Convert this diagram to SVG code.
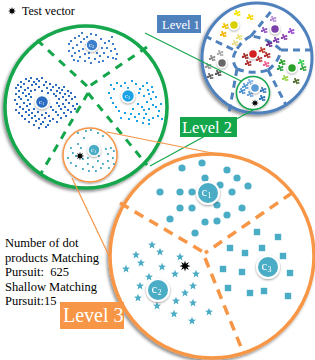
<svg xmlns="http://www.w3.org/2000/svg" xmlns:xlink="http://www.w3.org/1999/xlink" width="315" height="360" viewBox="0 0 315 360">
<style>
.t{font-family:"Liberation Serif","Times New Roman",serif;fill:#000;white-space:pre}
.lab{font-family:"Liberation Serif","Times New Roman",serif;fill:#fff}
.bl{font-family:"Liberation Serif","Times New Roman",serif;fill:#fff;text-anchor:middle}
.ring{fill:#fff}
.dashB{fill:none;stroke:#4f81bd;stroke-width:3;stroke-dasharray:7 5}
.dashG{fill:none;stroke:#13a64b;stroke-width:3;stroke-dasharray:8 7}
.dashO{fill:none;stroke:#f79646;stroke-width:3.5;stroke-dasharray:10 7}
.teal{fill:#4bacc6}
</style>
<defs>
<filter id="sh" x="-20%" y="-20%" width="140%" height="140%"><feDropShadow dx="-1.5" dy="2" stdDeviation="1.5" flood-color="#000" flood-opacity="0.45"/></filter>
<filter id="sh2" x="-50%" y="-50%" width="200%" height="200%"><feDropShadow dx="0" dy="1" stdDeviation="1" flood-color="#000" flood-opacity="0.4"/></filter>
<polygon id="st8" points="5,0 2.12,0.88 3.54,3.54 0.88,2.12 0,5 -0.88,2.12 -3.54,3.54 -2.12,0.88 -5,0 -2.12,-0.88 -3.54,-3.54 -0.88,-2.12 0,-5 0.88,-2.12 3.54,-3.54 2.12,-0.88" fill="#000"/>
<polygon id="st5" points="0,-4.2 1.06,-1.46 3.99,-1.3 1.71,0.56 2.47,3.4 0,1.8 -2.47,3.4 -1.71,0.56 -3.99,-1.3 -1.06,-1.46" fill="#4bacc6"/>
<circle id="dot" r="3.6" fill="#4bacc6"/>
<rect id="sq" x="-3.2" y="-3.2" width="6.4" height="6.4" fill="#4bacc6"/>
<g id="blob"><circle r="1.4"/><circle cx="2.2" cy="-0.9" r="1.2"/><circle cx="-2" cy="0.9" r="1.2"/><circle cx="0.9" cy="2.1" r="1.1"/><circle cx="-0.9" cy="-2" r="1.1"/><circle cx="2.6" cy="1.9" r="0.9"/></g>
</defs>
<rect width="315" height="360" fill="#fff"/>

<!-- Test vector legend -->
<g id="legend">
<use href="#st8" transform="translate(12,11) scale(0.8)"/>
<text class="t" x="22" y="15" font-size="12">Test vector</text>
</g>

<!-- Level 2 -->
<g id="level2">
<circle cx="86" cy="107" r="81" class="ring" stroke="#13a64b" stroke-width="3.5" filter="url(#sh)"/>
<path class="dashG" d="M37,40 L88,87 M147,47 L88,87 M88,93 L40,175 M88,93 L147,165"/>
<path fill="none" stroke="#3d7fcc" stroke-width="2" d="M70 41h2M74 38h2M78 36h2M80 42h2M76 45h2M72 48h2M68 44h2M83 39h2M85 45h2M82 49h2M78 51h2M74 53h2M71 56h2M79 57h2M84 54h2M88 58h2M86 37h2M81 33h2M90 34h2M95 35h2M100 39h2M104 43h2M108 41h2M112 44h2M106 48h2M110 51h2M114 49h2M103 53h2M99 56h2M107 57h2M112 58h2M116 54h2M94 59h2M90 63h2M98 62h2M102 61h2M88 53h2M96 53h2M101 48h2M73 60h2M77 61h2M84 61h2M68 51h2M111 37h2M115 59h2"/>
<path fill="none" stroke="#2b6cc0" stroke-width="2" d="M25 79h2M30 78h2M36 79h2M41 78h2M20 82h2M28 81h2M33 82h2M38 81h2M45 82h2M17 85h2M23 84h2M31 85h2M35 84h2M43 85h2M49 84h2M55 85h2M15 88h2M20 87h2M27 88h2M38 87h2M46 88h2M52 87h2M58 88h2M63 87h2M18 91h2M24 90h2M30 91h2M34 90h2M41 91h2M50 90h2M56 91h2M61 90h2M67 91h2M15 94h2M22 93h2M28 94h2M47 93h2M53 94h2M59 93h2M64 94h2M70 93h2M18 97h2M25 96h2M30 97h2M55 96h2M62 97h2M68 96h2M74 97h2M14 100h2M20 99h2M27 100h2M58 99h2M65 100h2M71 99h2M16 104h2M23 103h2M29 104h2M56 103h2M62 104h2M68 103h2M76 104h2M19 107h2M26 106h2M50 107h2M58 106h2M64 107h2M72 106h2M15 110h2M22 109h2M28 110h2M33 109h2M52 110h2M60 109h2M67 110h2M74 109h2M18 113h2M25 112h2M31 113h2M37 112h2M45 113h2M55 112h2M63 113h2M70 112h2M21 116h2M28 115h2M34 116h2M41 115h2M48 116h2M57 115h2M65 116h2M24 119h2M31 118h2M38 119h2M44 118h2M52 119h2M60 118h2M28 122h2M35 121h2M42 122h2M49 121h2M56 122h2M33 125h2M40 124h2M47 125h2M38 128h2M45 127h2"/>
<path fill="none" stroke="#1ca2e6" stroke-width="2" d="M110 85h2M113 89h2M116 83h2M120 86h2M124 83h2M127 88h2M131 81h2M135 84h2M139 89h2M142 86h2M146 83h2M147 90h2M151 87h2M138 93h2M143 96h2M148 94h2M152 92h2M150 99h2M155 97h2M146 102h2M137 104h2M141 107h2M143 110h2M148 109h2M152 105h2M155 107h2M160 104h2M158 111h2M110 98h2M112 103h2M115 107h2M108 93h2M118 111h2M124 113h2M130 114h2M134 117h2M138 114h2M143 118h2M148 120h2M152 118h2M157 116h2M142 123h2M148 124h2M136 121h2M128 119h2M120 118h2M161 119h2M145 114h2M132 109h2"/>
<g id="badge-l2-c2" filter="url(#sh2)"><circle cx="92" cy="45" r="6" fill="#3d7fcc" stroke="#fff" stroke-width="1.5"/><text class="bl" x="91.5" y="47" font-size="7">c<tspan font-size="4.5" dy="1">2</tspan></text></g>
<g id="badge-l2-c1" filter="url(#sh2)"><circle cx="42" cy="102" r="6.5" fill="#2b6cc0" stroke="#fff" stroke-width="1.5"/><text class="bl" x="41.5" y="104" font-size="7">c<tspan font-size="4.5" dy="1">1</tspan></text></g>
<g id="badge-l2-c3" filter="url(#sh2)"><circle cx="128" cy="96" r="6.5" fill="#1ca2e6" stroke="#fff" stroke-width="1.5"/><text class="bl" x="127.5" y="98" font-size="7">c<tspan font-size="4.5" dy="1">3</tspan></text></g>
</g>

<!-- Level 2 zoom region -->
<g id="zoom2">
<circle cx="90" cy="155" r="27" class="ring" stroke="#f79646" stroke-width="1.5" filter="url(#sh2)"/>
<path fill="none" stroke="#4bacc6" stroke-width="1.8" d="M77 133h1.8M85 131h1.8M90 130h1.8M97 133h1.8M102 136h1.8M83 138h1.8M77 144h1.8M72 153h1.8M67 158h1.8M70 163h1.8M75 166h1.8M82 169h1.8M88 171h1.8M87 164h1.8M97 161h1.8M102 164h1.8M107 161h1.8M113 164h1.8M112 158h1.8M107 154h1.8M113 151h1.8M110 148h1.8M105 149h1.8M75 156h1.8M82 159h1.8M87 158h1.8M92 167h1.8M100 168h1.8M98 156h1.8M70 148h1.8M80 148h1.8M95 171h1.8M108 168h1.8"/>
<g id="badge-z2" filter="url(#sh2)"><circle cx="94" cy="150" r="6" fill="#4bacc6" stroke="#fff" stroke-width="1.5"/><text class="bl" x="93.5" y="152" font-size="7">c<tspan font-size="4.5" dy="1">1</tspan></text></g>
<use href="#st8" transform="translate(80,156) scale(0.85)"/>
</g>

<!-- Level 1 -->
<g id="level1">
<circle cx="257" cy="58" r="55" class="ring" stroke="#4f81bd" stroke-width="3" filter="url(#sh)"/>
<path class="dashB" d="M205,36 L236,51 M236,51 Q230,60 237,69 M237,69 L229,113 M237,69 Q253,75 268,70 M268,70 L286,105 M268,70 Q279,62 281,50 M281,50 L312,50 M281,50 Q268,38 251,36 M251,36 L273,9 M251,36 Q241,41 236,51"/>
<use href="#blob" x="237" y="13" fill="#f2e600"/>
<use href="#blob" x="250" y="17" fill="#f5d800"/>
<use href="#blob" x="225" y="26" fill="#f7c400"/>
<use href="#blob" x="223" y="34" fill="#f5b400"/>
<use href="#blob" x="239" y="37" fill="#ece27a"/>
<use href="#blob" x="235" y="43" fill="#e6dc8a"/>
<use href="#blob" x="273" y="19" fill="#b48cd8"/>
<use href="#blob" x="264" y="30" fill="#8e54c0"/>
<use href="#blob" x="291" y="31" fill="#9b4fd0"/>
<use href="#blob" x="284" y="37" fill="#8e44ad"/>
<use href="#blob" x="276" y="40" fill="#7a3fa8"/>
<use href="#blob" x="269" y="44" fill="#6a2d90"/>
<use href="#blob" x="245" y="56" fill="#a52a2a"/>
<use href="#blob" x="248" y="63" fill="#b03030"/>
<use href="#blob" x="262" y="50" fill="#c0392b"/>
<use href="#blob" x="267" y="55" fill="#b52d2d"/>
<use href="#blob" x="259" y="59" fill="#c23b3b"/>
<use href="#blob" x="266" y="64" fill="#f06090"/>
<use href="#blob" x="282" y="62" fill="#2ca02c"/>
<use href="#blob" x="301" y="62" fill="#3ecf5a"/>
<use href="#blob" x="280" y="68" fill="#28a040"/>
<use href="#blob" x="285" y="78" fill="#9bd64a"/>
<use href="#blob" x="296" y="81" fill="#556b2f"/>
<use href="#blob" x="303" y="68" fill="#3aa845"/>
<use href="#blob" x="220" y="53" fill="#aaaaaa"/>
<use href="#blob" x="212" y="58" fill="#888888"/>
<use href="#blob" x="208" y="66" fill="#999999"/>
<use href="#blob" x="218" y="73" fill="#555555"/>
<use href="#blob" x="210" y="76" fill="#666666"/>
<circle cx="253" cy="93" r="16.5" class="ring" stroke="#13a64b" stroke-width="1.5" filter="url(#sh2)"/>
<use href="#blob" x="245" y="86" fill="#5b9bd5"/>
<use href="#blob" x="250" y="82" fill="#7fb2e6"/>
<use href="#blob" x="263" y="90" fill="#3a7ebf"/>
<use href="#blob" x="242" y="91" fill="#4a90d0"/>
<use href="#blob" x="250" y="94" fill="#6aa5de"/>
<use href="#blob" x="262" y="98" fill="#2e75b6"/>
<use href="#st8" transform="translate(255,103) scale(0.75)"/>
<g filter="url(#sh2)">
<circle cx="234" cy="25" r="4.5" fill="#d8d000" stroke="#fff" stroke-width="1.5"/>
<circle cx="275" cy="29" r="4.5" fill="#7a3fa8" stroke="#fff" stroke-width="1.5"/>
<circle cx="253" cy="54" r="4.5" fill="#d42020" stroke="#fff" stroke-width="1.5"/>
<circle cx="292" cy="68" r="4.5" fill="#2ca02c" stroke="#fff" stroke-width="1.5"/>
<circle cx="222" cy="63" r="4.5" fill="#666666" stroke="#fff" stroke-width="1.5"/>
<circle cx="255" cy="88" r="4.5" fill="#5b9bd5" stroke="#fff" stroke-width="1.5"/>
</g>
</g>

<!-- Level 3 -->
<g id="level3">
<circle cx="212" cy="256" r="102" class="ring" stroke="#f79646" stroke-width="3.5" filter="url(#sh)"/>
<path class="dashO" d="M120,203 L205,253 M292,193 L205,253 M205,258 L243,352"/>
<g id="l3-c1">
<use href="#dot" x="182" y="168"/><use href="#dot" x="202" y="163"/><use href="#dot" x="227" y="170"/><use href="#dot" x="237" y="178"/><use href="#dot" x="205" y="178"/><use href="#dot" x="220" y="185"/><use href="#dot" x="248" y="186"/><use href="#dot" x="160" y="192"/><use href="#dot" x="180" y="192"/><use href="#dot" x="192" y="192"/><use href="#dot" x="232" y="192"/><use href="#dot" x="180" y="208"/><use href="#dot" x="192" y="208"/><use href="#dot" x="217" y="205"/><use href="#dot" x="242" y="208"/><use href="#dot" x="170" y="219"/><use href="#dot" x="205" y="222"/><use href="#dot" x="217" y="221"/><use href="#dot" x="227" y="215"/><use href="#dot" x="195" y="233"/>
</g>
<g id="l3-c2">
<use href="#st5" x="152" y="245"/><use href="#st5" x="160" y="252"/><use href="#st5" x="136" y="255"/><use href="#st5" x="141" y="263"/><use href="#st5" x="180" y="257"/><use href="#st5" x="126" y="269"/><use href="#st5" x="162" y="267"/><use href="#st5" x="149" y="277"/><use href="#st5" x="175" y="274"/><use href="#st5" x="196" y="274"/><use href="#st5" x="140" y="286"/><use href="#st5" x="193" y="286"/><use href="#st5" x="185" y="293"/><use href="#st5" x="138" y="298"/><use href="#st5" x="176" y="301"/><use href="#st5" x="157" y="306"/><use href="#st5" x="193" y="303"/><use href="#st5" x="209" y="312"/><use href="#st5" x="174" y="314"/><use href="#st5" x="192" y="321"/>
</g>
<g id="l3-c3">
<use href="#sq" x="257" y="232"/><use href="#sq" x="278" y="237"/><use href="#sq" x="230" y="248"/><use href="#sq" x="262" y="248"/><use href="#sq" x="245" y="253"/><use href="#sq" x="283" y="256"/><use href="#sq" x="223" y="269"/><use href="#sq" x="242" y="272"/><use href="#sq" x="290" y="273"/><use href="#sq" x="228" y="288"/><use href="#sq" x="250" y="293"/><use href="#sq" x="264" y="291"/><use href="#sq" x="288" y="296"/>
</g>
<use href="#st8" transform="translate(185,266) scale(1.1)"/>
<g id="badge-l3-c1" filter="url(#sh2)"><circle cx="208" cy="193" r="11" fill="#4bacc6" stroke="#fff" stroke-width="2"/><text class="bl" x="206.5" y="196" font-size="13">c<tspan font-size="8" dy="2">1</tspan></text></g>
<g id="badge-l3-c2" filter="url(#sh2)"><circle cx="158" cy="290" r="11" fill="#4bacc6" stroke="#fff" stroke-width="2"/><text class="bl" x="156.5" y="293" font-size="13">c<tspan font-size="8" dy="2">2</tspan></text></g>
<g id="badge-l3-c3" filter="url(#sh2)"><circle cx="268" cy="267" r="11" fill="#4bacc6" stroke="#fff" stroke-width="2"/><text class="bl" x="266.5" y="270" font-size="13">c<tspan font-size="8" dy="2">3</tspan></text></g>
</g>

<!-- Connectors -->
<g id="connectors" fill="none">
<line x1="241" y1="81" x2="145" y2="33" stroke="#13a64b" stroke-width="1.2"/>
<line x1="253" y1="110" x2="150" y2="166" stroke="#13a64b" stroke-width="1.2"/>
<line x1="107" y1="132" x2="222" y2="155" stroke="#f79646" stroke-width="1.2"/>
<line x1="72" y1="178" x2="111" y2="260" stroke="#f79646" stroke-width="1.2"/>
</g>

<!-- Labels -->
<g id="label-level1">
<rect x="157" y="15" width="44" height="18" fill="#4f81bd"/>
<text class="lab" x="162" y="29" font-size="12.5">Level 1</text>
</g>
<g id="label-level2">
<rect x="180" y="117" width="57" height="20" fill="#13a64b"/>
<text class="lab" x="182" y="133" font-size="16.5">Level 2</text>
</g>
<g id="label-level3">
<rect x="60" y="302" width="64" height="27" fill="#f79646"/>
<text class="lab" x="63" y="322" font-size="20">Level 3</text>
</g>
<g id="note">
<text class="t" x="5" y="247" font-size="12.5">Number of dot</text>
<text class="t" x="5" y="262" font-size="12.5">products Matching</text>
<text class="t" x="5" y="276" font-size="12.5" xml:space="preserve">Pursuit:  625</text>
<text class="t" x="5" y="291" font-size="12.5">Shallow Matching</text>
<text class="t" x="5" y="305" font-size="12.5">Pursuit:15</text>
</g>
</svg>
